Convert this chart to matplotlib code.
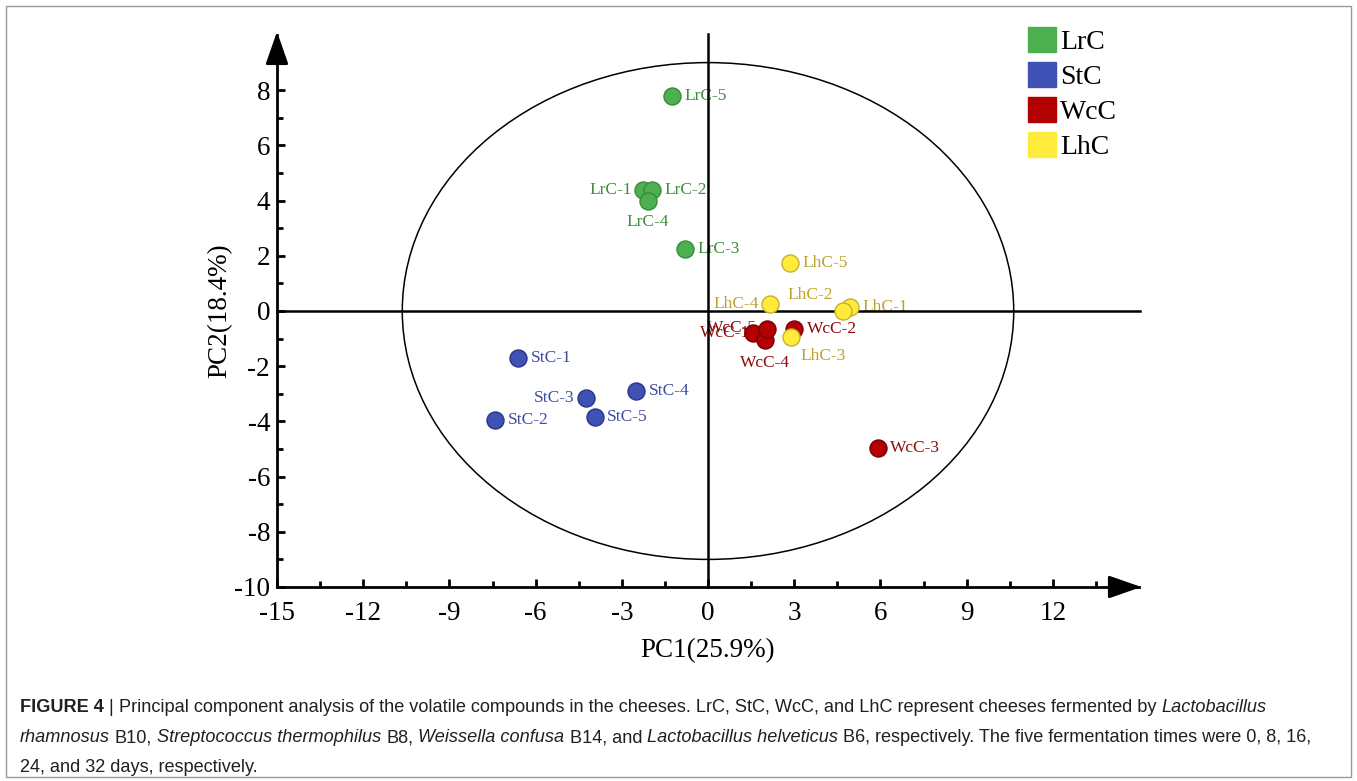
import matplotlib
matplotlib.use("Agg")
import matplotlib.pyplot as plt
from matplotlib.patches import Ellipse, Patch, Rectangle
from matplotlib.ticker import FixedLocator
from matplotlib import font_manager

# PCA scores (PC1, PC2), samples 1..5 per cheese
groups = ["LrC", "StC", "WcC", "LhC"]
lrc_pc1 = [-2.25, -1.95, -0.8, -2.1, -1.25]
lrc_pc2 = [4.4, 4.4, 2.25, 4.0, 7.8]
stc_pc1 = [-6.6, -7.4, -4.25, -2.5, -3.95]
stc_pc2 = [-1.7, -3.95, -3.15, -2.9, -3.85]
wcc_pc1 = [1.55, 3.0, 5.9, 2.0, 2.05]
wcc_pc2 = [-0.8, -0.65, -4.95, -1.05, -0.65]
lhc_pc1 = [4.95, 4.7, 2.9, 2.15, 2.85]
lhc_pc2 = [0.15, 0.0, -0.95, 0.25, 1.75]

ellipse_rx, ellipse_ry = 10.64, 9.0
x_ticks = list(range(-15, 13, 3))
y_ticks = list(range(-10, 9, 2))
x_minor = [-13.5 + 3 * i for i in range(10)]
y_minor = list(range(-9, 10, 2))

xlabel = "PC1(25.9%)"
ylabel = "PC2(18.4%)"

# styling
fill = {"LrC": "#4CAF50", "StC": "#3F51B5", "WcC": "#B30000", "LhC": "#FFEB3B"}
edge = {"LrC": "#3A8A3C", "StC": "#2A3585", "WcC": "#7A0000", "LhC": "#C9B02A"}
tcol = {"LrC": "#3C8C3C", "StC": "#3D4BA0", "WcC": "#8B0A0A", "LhC": "#BCA32A"}

# label placement per sample: (dx pt, dy pt, ha)
R, L = (9, 0, "left"), (-8, 0, "right")
label_pos = {
    "LrC": [L, R, R, (0, -15.6, "center"), R],
    "StC": [R, R, L, R, R],
    "WcC": [(-2, 0, "right"), R, R, (0, -16.5, "center"), (-7, 0.5, "right")],
    "LhC": [R, (-23.8, 11.5, "center"), (6.5, -13.7, "left"), L, R],
}

series = {
    "LrC": (lrc_pc1, lrc_pc2),
    "StC": (stc_pc1, stc_pc2),
    "WcC": (wcc_pc1, wcc_pc2),
    "LhC": (lhc_pc1, lhc_pc2),
}

plt.rcParams["font.family"] = ["Liberation Serif", "DejaVu Serif"]
plt.rcParams["axes.unicode_minus"] = False

W, H = 1357, 781
fig = plt.figure(figsize=(W / 100, H / 100), dpi=100)
ax = fig.add_axes([277 / W, 1 - 587 / H, 862 / W, 552 / H])
ax.set_xlim(-15, 15)
ax.set_ylim(-10, 10)

# outer frame around figure + caption
fig.add_artist(Rectangle((6 / W, 4 / H), 1345 / W, 771 / H, transform=fig.transFigure,
                         fill=False, edgecolor="#9a9a9a", lw=1))

ax.add_patch(Ellipse((0, 0), 2 * ellipse_rx, 2 * ellipse_ry, fill=False,
                     edgecolor="black", lw=1.1, zorder=1))

# zero lines
ax.plot([-15, 15.05], [0, 0], color="black", lw=1.8, zorder=3, clip_on=False)
ax.plot([0, 0], [-10, 10.03], color="black", lw=1.8, zorder=3, clip_on=False)

for g in groups:
    xs, ys = series[g]
    ax.scatter(xs, ys, s=150, facecolor=fill[g], edgecolor=edge[g], linewidth=1.0, zorder=4)
    for i, (x, y) in enumerate(zip(xs, ys)):
        dx, dy, ha = label_pos[g][i]
        ax.annotate(f"{g}-{i + 1}", (x, y), xytext=(dx, dy), textcoords="offset points",
                    ha=ha, va="center", fontsize=12.5, color=tcol[g], zorder=2)

# axes with arrow heads
for s in ["top", "right"]:
    ax.spines[s].set_visible(False)
ax.spines["left"].set_linewidth(2.0)
ax.spines["bottom"].set_linewidth(2.0)
arrow = dict(arrowstyle="-|>,head_length=1.0,head_width=0.35", color="black", lw=2.0,
             mutation_scale=20, shrinkA=0, shrinkB=0)
ax.annotate("", xy=(-15, 10.12), xytext=(-15, 9.2), arrowprops=arrow, annotation_clip=False)
ax.annotate("", xy=(15.08, -10), xytext=(14.2, -10), arrowprops=arrow, annotation_clip=False)

ax.set_xticks(x_ticks)
ax.set_yticks(y_ticks)
ax.xaxis.set_minor_locator(FixedLocator(x_minor))
ax.yaxis.set_minor_locator(FixedLocator(y_minor))
ax.tick_params(which="both", direction="in", width=2.0, labelsize=19.5)
ax.tick_params(which="major", length=6, pad=5)
ax.tick_params(which="minor", length=4)
ax.tick_params(axis="x", pad=10)
ax.set_xlabel(xlabel, fontsize=19.5)
ax.set_ylabel(ylabel, fontsize=19.5)
ax.xaxis.set_label_coords(0.5, -0.092)
ax.yaxis.set_label_coords(-0.052, 0.5)

handles = [Patch(facecolor=fill[g], edgecolor=fill[g]) for g in groups]
ax.legend(handles, groups, loc="upper left", bbox_to_anchor=(1028 / W, 1 - 27 / H),
          bbox_transform=fig.transFigure, frameon=False, fontsize=20,
          handlelength=1.0, handleheight=1.0, handletextpad=0.15, labelspacing=0.25,
          borderpad=0, borderaxespad=0)

# caption
names = {f.name for f in font_manager.fontManager.ttflist}
if "Liberation Sans Narrow" in names:
    cap_family, cap_size = "Liberation Sans Narrow", 14
else:
    cap_family, cap_size = "Liberation Sans", 13.1
cap_color = "#231f20"
renderer = fig.canvas.get_renderer()


def text_width(s, **kw):
    t = fig.text(0, 0, s, fontsize=cap_size, family=cap_family, **kw)
    w = t.get_window_extent(renderer).width
    t.remove()
    return w


space_w = text_width("a a") - text_width("aa")

NORM = {}
BOLD = {"weight": "bold"}
ITAL = {"style": "italic"}
caption = [
    (708, [("FIGURE 4", BOLD), ("|", NORM),
           ("Principal component analysis of the volatile compounds in the cheeses. LrC, StC, WcC, "
            "and LhC represent cheeses fermented by", NORM), ("Lactobacillus", ITAL)]),
    (738, [("rhamnosus", ITAL), ("B10,", NORM), ("Streptococcus thermophilus", ITAL), ("B8,", NORM),
           ("Weissella confusa", ITAL), ("B14, and", NORM), ("Lactobacillus helveticus", ITAL),
           ("B6, respectively. The five fermentation times were 0, 8, 16,", NORM)]),
    (767, [("24, and 32 days, respectively.", NORM)]),
]
for y_px, segs in caption:
    x_px = 20
    for txt, kw in segs:
        t = fig.text(x_px / W, 1 - y_px / H, txt, ha="left", va="center", fontsize=cap_size,
                     family=cap_family, color=cap_color, **kw)
        x_px += t.get_window_extent(renderer).width + space_w

fig.savefig("out.png", dpi=100)
